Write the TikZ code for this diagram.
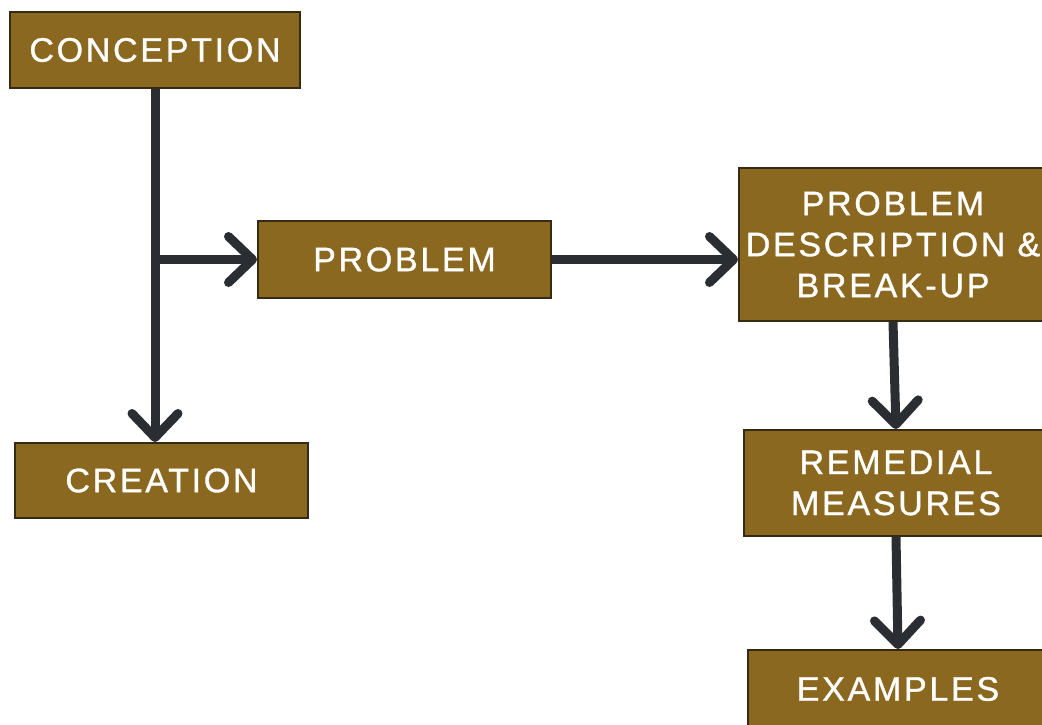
\documentclass[tikz,border=0pt]{standalone}
\usepackage{fontspec}
\setmainfont{Liberation Sans}[LetterSpace=8,FakeBold=1]
\usetikzlibrary{arrows.meta}
\definecolor{boxfill}{RGB}{139,104,32}
\definecolor{boxedge}{RGB}{52,42,22}
\definecolor{flow}{RGB}{42,46,50}
\tikzset{
  stage/.style={draw=boxedge, line width=2pt, fill=boxfill, text=white,
    font=\fontsize{34}{41}\selectfont, align=center, inner sep=0pt},
  flowline/.style={draw=flow, line width=9pt,
    -{Straight Barb[length=24pt,width=46pt,line width=9pt,round]}}
}
\begin{document}
\begin{tikzpicture}[x=1pt,y=-1pt]
\useasboundingbox[fill=white] (0,0) rectangle (1042,725);
\node[stage, minimum width=290pt, minimum height=76pt] (conception) at (155,50) {CONCEPTION};
\node[stage, minimum width=293pt, minimum height=77pt] (problem) at (404.5,259.5) {PROBLEM};
\node[stage, minimum width=308pt, minimum height=153pt] (describe) at (893,244.5) {PROBLEM\\DESCRIPTION \&\\BREAK-UP};
\node[stage, minimum width=293pt, minimum height=75pt] (creation) at (161.5,480.5) {CREATION};
\node[stage, minimum width=304pt, minimum height=106pt] (remedial) at (896,483) {REMEDIAL\\MEASURES};
\node[stage, minimum width=300pt, minimum height=78pt] (examples) at (898,689) {EXAMPLES};
\coordinate (branch) at (conception.south |- problem.west);
\draw[flowline] (conception.south) -- (conception.south |- creation.north);
\draw[flowline] (branch) -- (problem.west);
\draw[flowline] (problem.east) -- (problem.east -| describe.west);
\draw[flowline] (describe.south) -- (remedial.north);
\draw[flowline] (remedial.south) -- (examples.north);
\end{tikzpicture}
\end{document}
